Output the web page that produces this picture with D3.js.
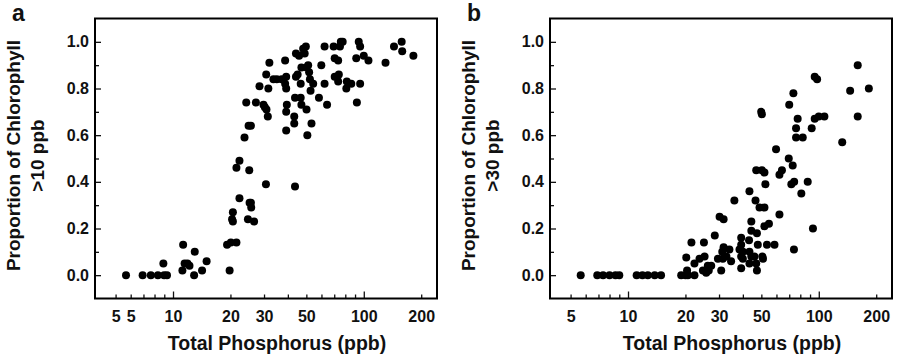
<!DOCTYPE html>
<html>
<head>
<meta charset="utf-8">
<script src="https://cdn.jsdelivr.net/npm/d3@7"></script>
<style>
  body { margin: 0; background: #fff; }
  svg text { font-family: Arial, "Liberation Sans", sans-serif; font-weight: bold; fill: #111; }
</style>
</head>
<body>
<div id="chart"></div>
<script>
// panel a : proportion of chlorophyll > 10 ppb
let tpA = [5.67, 6.93, 7.65, 8.33, 8.98, 9.3, 8.9,
  11.3, 11.2, 11.5, 11.9, 12.2, 12.9, 13.0, 14.2, 15.0,
  19.8, 19.2, 20.1, 21.5, 20.6, 20.4, 20.6, 21.5, 22.3, 22.3, 25.1, 25.2, 25.6, 25.7, 24.7, 26.6, 30.7,
  23.7, 24.9, 25.6, 24.2, 27.2, 28.4, 29.8, 30.3, 30.9, 31.4, 30.8, 31.6, 32.0, 33.6, 35.0, 37.1,
  38.7, 38.7, 39.2, 39.2, 39.5, 39.2, 39.2, 43.2, 43.2, 43.6, 43.6, 44.1, 44.1, 45.0, 45.8, 46.7, 46.7,
  47.1, 47.1, 48.1, 49.7, 49.0, 50.1, 50.6, 50.1, 51.1, 51.7, 52.2, 52.6, 53.2, 54.3, 58.2, 59.9,
  62.3, 62.3, 64.2, 69.5, 70.4, 73.4, 70.4, 72.7, 74.0, 73.4, 75.0, 75.8, 77.5, 81.0, 81.5, 86.0,
  92.0, 91.3, 94.1, 95.7, 95.7, 100, 105.8, 130, 144, 158, 159, 182];
let propA = [0, 0, 0, 0, 0, 0, 0.05,
  0.13, 0.02, 0.05, 0.05, 0.04, 0, 0.10, 0.02, 0.06,
  0.02, 0.13, 0.14, 0.14, 0.23, 0.24, 0.27, 0.46, 0.49, 0.33, 0.45, 0.31, 0.31, 0.29, 0.24, 0.23, 0.39,
  0.59, 0.64, 0.64, 0.74, 0.74, 0.81, 0.73, 0.72, 0.71, 0.68, 0.86, 0.80, 0.91, 0.84, 0.84, 0.84,
  0.92, 0.82, 0.85, 0.80, 0.73, 0.70, 0.62, 0.68, 0.65, 0.76, 0.38, 0.95, 0.85, 0.86, 0.94, 0.82, 0.76,
  0.89, 0.73, 0.97, 0.98, 0.95, 0.71, 0.60, 0.89, 0.90, 0.87, 0.84, 0.79, 0.65, 0.82, 0.76, 0.90,
  0.98, 0.82, 0.73, 0.98, 0.93, 0.92, 0.85, 0.85, 0.86, 0.83, 0.98, 1.00, 1.00, 0.80, 0.83, 0.82,
  0.74, 0.93, 1.00, 0.98, 0.82, 0.94, 0.92, 0.91, 0.98, 1.00, 0.96, 0.94];

// panel b : proportion of chlorophyll > 30 ppb
let tpB = [5.65, 6.9, 7.4, 8.0, 8.6, 9.0, 11.1, 11.9, 12.7, 13.8, 14.9,
  19.0, 20.0, 20.6, 22.3, 20.2, 20.4, 21.5, 22.3, 23.7, 25.0, 25.2, 24.7, 25.7, 26.2, 27.3, 26.5,
  28.5, 30.2, 31.7, 29.6, 30.8, 31.2, 31.7, 31.4, 32.8, 34.0, 34.7, 36.1,
  39.2, 39.2, 38.4, 40.0, 39.2, 39.2, 40.0, 43.3, 44.3, 44.3, 43.1, 43.3, 43.3, 44.3, 46.0, 46.6,
  47.0, 47.4, 47.9, 47.0, 47.4, 49.9, 50.3, 50.3, 48.9, 51.9, 50.6, 51.0, 51.9, 52.5, 51.9, 54.8,
  53.5, 58.6, 59.7, 62.2, 64.1, 62.2, 69.6, 70.0, 73.0, 71.8, 74.3, 73.6, 76.0, 77.5, 76.0, 82.4,
  74.1, 81.0, 87.5, 91.8, 93.2, 95.2, 98.0, 95.2, 100, 107, 132.7, 146, 160, 160, 183];
let propB = [0, 0, 0, 0, 0, 0, 0, 0, 0, 0, 0,
  0, 0, 0, 0, 0.076, 0.02, 0.14, 0.05, 0.07, 0.14, 0.08, 0.02, 0.01, 0.04, 0.04, 0.02,
  0.17, 0.25, 0.24, 0.07, 0.02, 0.10, 0.12, 0.07, 0.08, 0.11, 0.06, 0.32,
  0.16, 0.13, 0.11, 0.10, 0.08, 0.03, 0.07, 0.36, 0.23, 0.19, 0.15, 0.10, 0.05, 0.08, 0.08, 0.32,
  0.45, 0.18, 0.13, 0.05, 0.02, 0.70, 0.69, 0.45, 0.29, 0.29, 0.08, 0.07, 0.44, 0.39, 0.21, 0.22,
  0.13, 0.13, 0.54, 0.43, 0.45, 0.26, 0.50, 0.73, 0.47, 0.39, 0.40, 0.78, 0.63, 0.67, 0.59, 0.59,
  0.11, 0.35, 0.40, 0.63, 0.20, 0.85, 0.84, 0.67, 0.68, 0.68, 0.57, 0.79, 0.90, 0.68, 0.80];

let tickValsA = [5, 6, 10, 20, 30, 50, 100, 200];
let tickTextA = ["5", "5", "10", "20", "30", "50", "100", "200"];
let tickValsB = [5, 10, 20, 30, 50, 100, 200];
let tickTextB = ["5", "10", "20", "30", "50", "100", "200"];
let minorX = [5, 6, 7, 8, 9, 20, 30, 40, 50, 60, 70, 80, 90, 200];
let majorX = [10, 100];
let yMajor = [0, 0.2, 0.4, 0.6, 0.8, 1.0];
let yMinor = [0.1, 0.3, 0.5, 0.7, 0.9];

let width = 898, height = 356;
let svg = d3.select('#chart').append('svg')
  .attr('width', width)
  .attr('height', height);

let pw = 342, ph = 280, plotTop = 18.5;

function panel(left, letter, yTitle2, xs, ys, tickVals, tickText) {
  let x = d3.scaleLog().domain([3.9, 242]).range([0, pw]);
  let y = d3.scaleLinear().domain([-0.1, 1.1]).range([ph, 0]);
  let g = svg.append('g').attr('transform', `translate(${left},${plotTop})`);

  // ticks point inward
  g.append('g').attr('transform', `translate(0,${ph})`)
    .call(d3.axisBottom(x).tickValues(minorX).tickSize(-4).tickFormat(''));
  g.append('g').attr('transform', `translate(0,${ph})`)
    .call(d3.axisBottom(x).tickValues(majorX).tickSize(-7).tickFormat(''));
  g.append('g').call(d3.axisLeft(y).tickValues(yMinor).tickSize(-4).tickFormat(''));
  g.append('g').call(d3.axisLeft(y).tickValues(yMajor).tickSize(-6).tickFormat(''));
  g.selectAll('.domain').remove();
  g.selectAll('.tick line').attr('stroke', '#111').attr('stroke-width', 1.3);

  let xl = g.append('g').attr('transform', `translate(0,${ph})`)
    .call(d3.axisBottom(x).tickValues(tickVals).tickSize(0).tickFormat((d, i) => tickText[i]));
  xl.select('.domain').remove();
  xl.selectAll('text').attr('y', 23.5).attr('dy', null)
    .style('font-size', '16px').attr('fill', '#111');

  let yl = g.append('g')
    .call(d3.axisLeft(y).tickValues(yMajor).tickSize(0).tickPadding(6).tickFormat(d3.format('.1f')));
  yl.select('.domain').remove();
  yl.selectAll('text').style('font-size', '16px').attr('fill', '#111');

  g.selectAll('circle.pt')
    .data(d3.range(xs.length))
    .enter()
    .append('circle')
    .attr('class', 'pt')
    .attr('cx', i => x(xs[i]))
    .attr('cy', i => y(ys[i]))
    .attr('r', 4)
    .attr('fill', '#000');

  g.append('rect')
    .attr('width', pw).attr('height', ph)
    .attr('fill', 'none').attr('stroke', '#000').attr('stroke-width', 2);

  g.append('text')
    .attr('x', pw / 2 + 11).attr('y', 331.5)
    .attr('text-anchor', 'middle')
    .style('font-size', '19.5px')
    .text('Total Phosphorus (ppb)');

  g.append('text')
    .attr('transform', `translate(-75,${ph / 2 - 3}) rotate(-90)`)
    .attr('text-anchor', 'middle')
    .style('font-size', '19px')
    .text('Proportion of Chlorophyll');
  g.append('text')
    .attr('transform', `translate(-51,${ph / 2 - 3}) rotate(-90)`)
    .attr('text-anchor', 'middle')
    .style('font-size', '19px')
    .text(yTitle2);

  svg.append('text')
    .attr('x', left - 83).attr('y', 21)
    .style('font-size', '23px')
    .text(letter);
}

panel(95, 'a', '>10 ppb', tpA, propA, tickValsA, tickTextA);
panel(550, 'b', '>30 ppb', tpB, propB, tickValsB, tickTextB);
</script>
</body>
</html>
